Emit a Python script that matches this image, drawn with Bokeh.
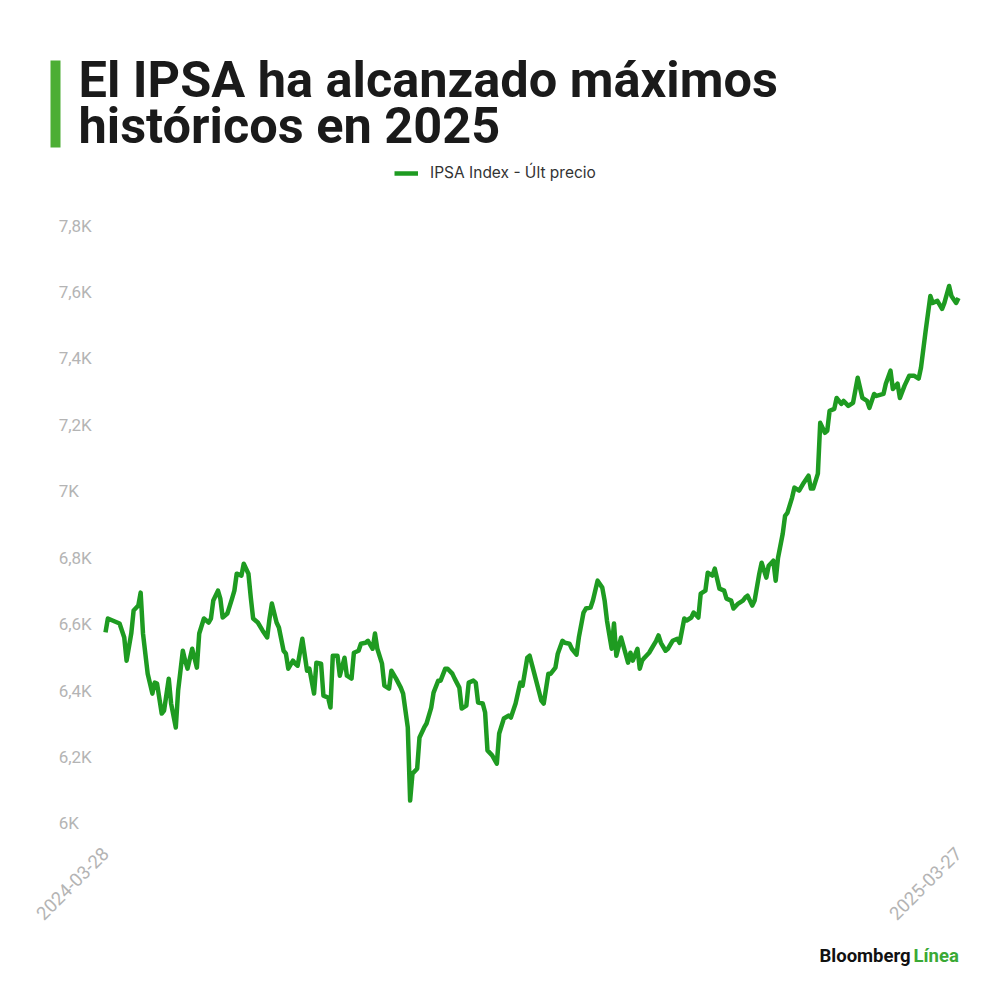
import math
from datetime import datetime, timedelta
from bokeh.plotting import figure
from bokeh.layouts import column
from bokeh.models import (Range1d, FixedTicker, DatetimeTickFormatter,
                          BoxAnnotation, Legend, LegendItem, ColumnDataSource)
from bokeh.core.properties import value
from bokeh.embed import file_html
from bokeh.resources import INLINE

# ---------------- data ----------------
start_date = "2024-03-28"
end_date = "2025-03-27"
days_since_start = [
    0, 1, 3, 6, 8, 9, 11, 12, 14, 15,
    16, 18, 20, 21, 22, 24, 25, 27, 28, 30,
    31, 33, 34, 35, 37, 39, 40, 42, 44, 45,
    46, 48, 49, 50, 52, 54, 55, 56, 58, 59,
    61, 62, 63, 65, 67, 69, 70, 71, 73, 74,
    76, 77, 78, 80, 81, 82, 84, 86, 87, 89,
    90, 92, 93, 95, 96, 97, 99, 100, 102, 103,
    105, 106, 108, 109, 111, 112, 114, 115, 116, 118,
    119, 121, 122, 124, 126, 127, 129, 130, 131, 133,
    134, 136, 137, 139, 140, 142, 143, 145, 146, 148,
    149, 151, 152, 154, 155, 157, 158, 159, 161, 162,
    163, 165, 167, 168, 170, 172, 173, 175, 177, 178,
    180, 181, 183, 186, 187, 189, 190, 192, 193, 195,
    196, 198, 199, 201, 202, 204, 205, 207, 208, 210,
    212, 213, 214, 216, 217, 218, 220, 221, 223, 224,
    225, 227, 228, 229, 230, 232, 233, 235, 236, 237,
    239, 240, 242, 244, 245, 247, 248, 250, 251, 253,
    254, 256, 257, 259, 260, 262, 264, 265, 267, 268,
    270, 272, 273, 274, 276, 277, 279, 280, 282, 283,
    285, 286, 287, 289, 290, 291, 293, 294, 296, 298,
    300, 301, 302, 304, 305, 307, 308, 309, 311, 312,
    314, 315, 317, 319, 321, 323, 325, 326, 328, 329,
    332, 333, 335, 336, 338, 339, 341, 343, 345, 347,
    348, 350, 352, 353, 355, 357, 358, 360, 361, 363, 364,
]
ipsa_close = [
    6575, 6617, 6611, 6602, 6560, 6490, 6572, 6641, 6656, 6695,
    6572, 6451, 6391, 6424, 6421, 6331, 6340, 6436, 6361, 6289,
    6400, 6520, 6490, 6466, 6526, 6469, 6572, 6617, 6605, 6617,
    6671, 6701, 6677, 6620, 6632, 6677, 6701, 6752, 6746, 6782,
    6752, 6680, 6617, 6605, 6581, 6560, 6617, 6662, 6605, 6590,
    6520, 6511, 6466, 6490, 6481, 6475, 6556, 6460, 6466, 6391,
    6484, 6481, 6385, 6379, 6349, 6505, 6505, 6445, 6499, 6445,
    6436, 6514, 6520, 6541, 6544, 6550, 6526, 6572, 6526, 6481,
    6415, 6406, 6460, 6436, 6409, 6391, 6289, 6069, 6150, 6165,
    6259, 6289, 6301, 6349, 6394, 6430, 6430, 6466, 6466, 6451,
    6436, 6409, 6346, 6355, 6424, 6430, 6424, 6364, 6361, 6334,
    6220, 6205, 6180, 6271, 6316, 6325, 6319, 6361, 6424, 6415,
    6499, 6505, 6451, 6370, 6361, 6451, 6451, 6469, 6511, 6550,
    6544, 6541, 6526, 6508, 6560, 6635, 6647, 6650, 6671, 6731,
    6710, 6671, 6611, 6526, 6602, 6505, 6560, 6535, 6484, 6514,
    6490, 6526, 6466, 6490, 6499, 6514, 6526, 6550, 6566, 6544,
    6520, 6526, 6550, 6556, 6544, 6617, 6611, 6620, 6635, 6620,
    6692, 6701, 6755, 6746, 6767, 6707, 6701, 6677, 6671, 6647,
    6662, 6671, 6680, 6686, 6656, 6671, 6752, 6785, 6740, 6776,
    6791, 6731, 6800, 6872, 6926, 6935, 6981, 7011, 7002, 7026,
    7047, 7008, 7008, 7053, 7206, 7176, 7182, 7242, 7248, 7281,
    7263, 7272, 7257, 7266, 7342, 7281, 7272, 7251, 7293, 7287,
    7293, 7324, 7363, 7308, 7324, 7281, 7318, 7348, 7348, 7339,
    7372, 7483, 7588, 7567, 7573, 7549, 7567, 7618, 7588, 7567, 7582,
]
y_ticks = [6000, 6200, 6400, 6600, 6800, 7000, 7200, 7400, 7600, 7800]
y_tick_labels = ["6K", "6,2K", "6,4K", "6,6K", "6,8K", "7K", "7,2K", "7,4K", "7,6K", "7,8K"]
series_name = "IPSA Index - Últ precio"
title_lines = ["El IPSA ha alcanzado máximos", "históricos en 2025"]
brand_words = ["Bloomberg", "Línea"]

# ---------------- styling / layout ----------------
LINE_GREEN = "#1e9b21"
BAR_GREEN = "#4cae34"
BRAND_GREEN = "#3aa935"
GREY = "#b4b4b4"
FONT = "Roboto"
W = 992
BL, BR = 50, 27          # left / right borders shared by all panels
HEAD_H, MAIN_H = 160, 775
FOOT_H = W - HEAD_H - MAIN_H


def blank(height):
    f = figure(width=W, height=height, output_backend="svg", toolbar_location=None,
               x_range=Range1d(BL, W - BR), y_range=Range1d(height, 0),
               min_border_left=BL, min_border_right=BR,
               min_border_top=0, min_border_bottom=0)
    f.axis.visible = False
    f.grid.visible = False
    f.outline_line_color = None
    f.background_fill_color = "white"
    f.border_fill_color = "white"
    return f


# ---------------- header ----------------
head = blank(HEAD_H)
head.add_layout(BoxAnnotation(left=49, right=60, top=60, bottom=147,
                              fill_color=BAR_GREEN, fill_alpha=1, line_color=None))
head.text(x=[78, 78], y=[78.5, 124.5], text=title_lines, text_font=value(FONT),
          text_font_style="bold", text_font_size="50.5px", text_color="#1a1a1a",
          text_baseline="middle", text_align="left")

# ---------------- main chart ----------------
t0 = datetime.strptime(start_date, "%Y-%m-%d")
t1 = datetime.strptime(end_date, "%Y-%m-%d")
dates = [t0 + timedelta(days=d) for d in days_since_start]
src = ColumnDataSource(dict(date=dates, close=ipsa_close))

p = figure(width=W, height=MAIN_H, output_backend="svg", toolbar_location=None,
           x_axis_type="datetime",
           x_range=Range1d(t0 - timedelta(days=23.47), t1 + timedelta(days=3.0)),
           y_range=Range1d(5948.8, 7995.7),
           min_border_left=BL, min_border_right=BR,
           min_border_top=0, min_border_bottom=MAIN_H - 680)
p.outline_line_color = None
p.background_fill_color = "white"
p.border_fill_color = "white"
p.xgrid.visible = False
p.ygrid.visible = False
p.yaxis.visible = False

line = p.line("date", "close", source=src, line_color=LINE_GREEN, line_width=4.5,
              line_join="round")

# y tick labels, left aligned
lab_x = [t0 - timedelta(days=20)] * len(y_ticks)
p.text(x=lab_x, y=y_ticks, text=y_tick_labels, text_font=value(FONT),
       text_font_size="17px", text_color=GREY, text_align="left",
       text_baseline="middle")

# x axis: first and last date only
xa = p.xaxis[0]
xa.ticker = FixedTicker(ticks=[t0.timestamp() * 1000, t1.timestamp() * 1000])
fmt = "%Y-%m-%d"
xa.formatter = DatetimeTickFormatter(milliseconds=fmt, seconds=fmt, minsec=fmt,
                                     minutes=fmt, hourmin=fmt, hours=fmt, days=fmt,
                                     months=fmt, years=fmt)
xa.major_label_orientation = math.pi / 4
xa.major_label_text_color = GREY
xa.major_label_text_font = FONT
xa.major_label_text_font_size = "18.5px"
xa.major_label_standoff = 4
xa.axis_line_color = None
xa.major_tick_line_color = None
xa.minor_tick_line_color = None

legend = Legend(items=[LegendItem(label=series_name, renderers=[line])],
                location=(344, 658), orientation="horizontal",
                glyph_width=24, glyph_height=16, label_standoff=12,
                padding=0, margin=0, border_line_color=None,
                background_fill_alpha=0,
                label_text_font="Inter", label_text_font_size="15.5px",
                label_text_color="#333333")
p.add_layout(legend, "center")

# ---------------- footer ----------------
foot = blank(FOOT_H)
foot.text(x=[819, 913], y=[955 - HEAD_H - MAIN_H] * 2, text=brand_words,
          text_font=value(FONT), text_font_style="bold", text_font_size="18.5px",
          text_color=["#111111", BRAND_GREEN], text_baseline="middle",
          text_align="left")

layout = column(head, p, foot, spacing=0)
open("out.html", "w").write(file_html(layout, INLINE))
